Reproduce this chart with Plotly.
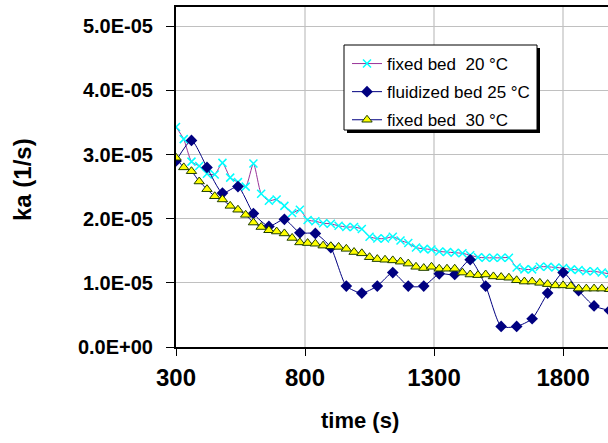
import plotly.graph_objects as go

# tiempos (s) de medición
time_fixed = [300, 330, 360, 390, 420, 450, 480, 510, 540, 570, 600, 630, 660, 690, 720,
              750, 780, 810, 840, 870, 900, 930, 960, 990, 1020, 1050, 1080, 1110, 1140,
              1170, 1200, 1230, 1260, 1290, 1320, 1350, 1380, 1410, 1440, 1470, 1500, 1530,
              1560, 1590, 1620, 1650, 1680, 1710, 1740, 1770, 1800, 1830, 1860, 1890, 1920,
              1950, 1980]
time_fluid = [300, 360, 420, 480, 540, 600, 660, 720, 780, 840, 900, 960, 1020, 1080, 1140,
              1200, 1260, 1320, 1380, 1440, 1500, 1560, 1620, 1680, 1740, 1800, 1860, 1920,
              1980]

# ka en unidades de 1e-5 1/s
ka_fixed20 = [3.43, 3.24, 2.89, 2.82, 2.70, 2.69, 2.87, 2.64, 2.57, 2.50, 2.86, 2.39, 2.28,
              2.30, 2.20, 2.09, 2.14, 1.98, 1.96, 1.93, 1.92, 1.89, 1.87, 1.87, 1.84, 1.72,
              1.69, 1.69, 1.72, 1.66, 1.62, 1.55, 1.53, 1.52, 1.49, 1.48, 1.47, 1.46, 1.43,
              1.40, 1.39, 1.39, 1.39, 1.39, 1.24, 1.21, 1.21, 1.25, 1.25, 1.24, 1.23, 1.21,
              1.20, 1.18, 1.18, 1.16, 1.14]
ka_fluid25 = [2.90, 3.22, 2.80, 2.40, 2.50, 2.08, 1.88, 1.99, 1.78, 1.77, 1.55, 0.95, 0.84,
              0.95, 1.16, 0.95, 0.95, 1.14, 1.13, 1.36, 0.95, 0.32, 0.32, 0.44, 0.84, 1.16,
              0.88, 0.64, 0.57]
ka_fixed30 = [2.95, 2.80, 2.74, 2.58, 2.46, 2.35, 2.30, 2.20, 2.14, 2.06, 1.94, 1.87, 1.82,
              1.80, 1.77, 1.70, 1.63, 1.62, 1.61, 1.58, 1.57, 1.56, 1.53, 1.48, 1.46, 1.40,
              1.37, 1.36, 1.35, 1.33, 1.30, 1.25, 1.23, 1.25, 1.22, 1.22, 1.22, 1.16, 1.13,
              1.12, 1.13, 1.10, 1.09, 1.08, 1.04, 1.02, 1.02, 1.00, 0.98, 0.96, 0.96, 0.95,
              0.91, 0.91, 0.91, 0.91, 0.90]

y_ticks = [0, 1e-5, 2e-5, 3e-5, 4e-5, 5e-5]
y_labels = ["0.0E+00", "1.0E-05", "2.0E-05", "3.0E-05", "4.0E-05", "5.0E-05"]
x_ticks = [300, 800, 1300, 1800]

fuente = "Liberation Sans, Arial, sans-serif"

# conversión de pixeles a coordenadas paper (área del gráfico 176..608 x 7..347)
def px_x(p):
    return (p - 176) / 432

def px_y(p):
    return 1 - (p - 7) / 340

fig = go.Figure()
fig.add_trace(go.Scatter(
    x=time_fixed, y=[v * 1e-5 for v in ka_fixed20], mode="lines+markers",
    name="fixed bed \u00a020 °C", legendgroup="a",
    line=dict(color="#993399", width=1, shape="spline", smoothing=0.6),
    marker=dict(symbol="x-thin", size=8, line=dict(color="#00FFFF", width=1.5)),
))
fig.add_trace(go.Scatter(
    x=time_fluid, y=[v * 1e-5 for v in ka_fluid25], mode="lines+markers",
    name="fluidized bed 25 °C", legendgroup="b",
    line=dict(color="#000080", width=1, shape="spline", smoothing=0.6),
    marker=dict(symbol="diamond", size=9, color="#000080"),
))
fig.add_trace(go.Scatter(
    x=time_fixed, y=[v * 1e-5 for v in ka_fixed30], mode="lines+markers",
    name="fixed bed \u00a030 °C", legendgroup="c",
    line=dict(color="#000080", width=1, shape="spline", smoothing=0.6),
    marker=dict(symbol="triangle-up", size=9, color="#FFFF00",
                line=dict(color="#1F3F00", width=1)),
))

fig.update_xaxes(
    range=[300, 1974], tickvals=x_ticks, ticks="outside", ticklen=7, tickcolor="black",
    showline=True, linecolor="black", linewidth=2, mirror=True,
    showgrid=True, gridcolor="#d9d9d9", gridwidth=2, zeroline=False,
    tickfont=dict(family=fuente, size=24, color="black", weight="bold"),
    ticklabelstandoff=1,
)
fig.update_yaxes(
    range=[0, 5.3e-5], tickvals=y_ticks, ticktext=y_labels, ticks="outside", ticklen=8,
    tickcolor="black", showline=True, linecolor="black", linewidth=2,
    showgrid=True, gridcolor="#c0c0c0", gridwidth=1, zeroline=False,
    tickfont=dict(family=fuente, size=20, color="black", weight="bold"),
    ticklabelstandoff=9,
)

fig.add_annotation(text="time (s)", xref="paper", yref="paper", x=px_x(360), y=px_y(421),
                   xanchor="center", yanchor="middle", showarrow=False,
                   font=dict(family=fuente, size=22, color="black", weight="bold"))
fig.add_annotation(text="ka (1/s)", xref="paper", yref="paper", x=px_x(22), y=px_y(180),
                   xanchor="center", yanchor="middle", showarrow=False, textangle=-90,
                   font=dict(family=fuente, size=24, color="black", weight="bold"))

# caja de la leyenda con sombra
fig.add_shape(type="rect", xref="paper", yref="paper", layer="above",
              x0=px_x(347), x1=px_x(540), y0=px_y(133), y1=px_y(48),
              fillcolor="black", line=dict(width=0))
fig.add_shape(type="rect", xref="paper", yref="paper", layer="above",
              x0=px_x(344), x1=px_x(537), y0=px_y(130), y1=px_y(45),
              fillcolor="white", line=dict(color="black", width=1))

fig.update_layout(
    width=608, height=443,
    margin=dict(l=176, r=0, t=7, b=96),
    plot_bgcolor="white", paper_bgcolor="white",
    legend=dict(x=px_x(347), y=px_y(46), xanchor="left", yanchor="top",
                bgcolor="rgba(0,0,0,0)", borderwidth=0, tracegroupgap=3,
                font=dict(family=fuente, size=17, color="black")),
)

fig.write_html("out.html", config={"displayModeBar": False},
               post_script="document.body.style.margin='0px';")
